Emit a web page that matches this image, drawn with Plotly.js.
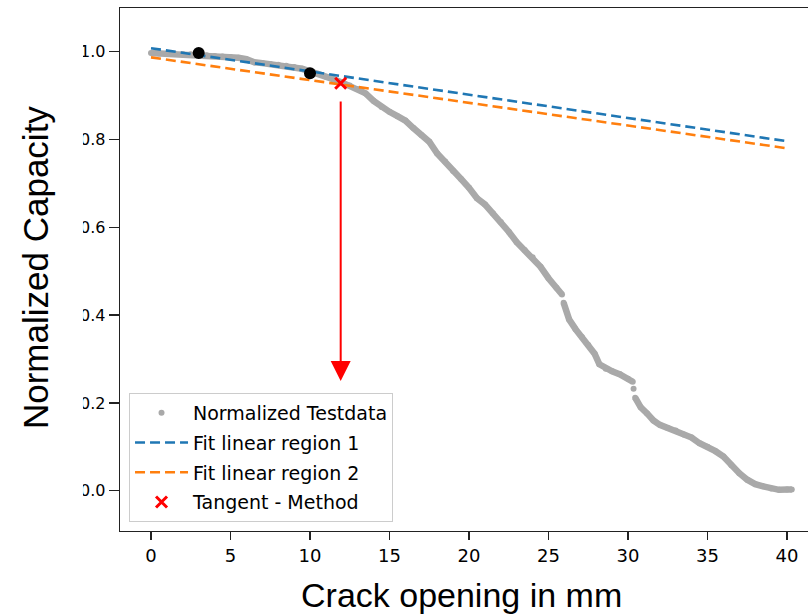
<!DOCTYPE html>
<html>
<head>
<meta charset="utf-8">
<script src="https://cdn.plot.ly/plotly-3.0.1.min.js"></script>
<style>
  html, body { margin: 0; padding: 0; overflow: hidden; background: #fff; }
  #chart { width: 832px; height: 616px; }
</style>
</head>
<body>
<div id="chart"></div>
<script>
// ---- data ----
const testX = [0, 0.5, 1, 1.5, 2, 2.5, 3, 3.5, 4, 4.5, 5, 5.5, 6, 6.5, 7, 7.5, 8, 8.5, 9, 9.5,
  10, 10.5, 11, 11.5, 12, 12.5, 13, 13.5, 14, 14.5, 15, 15.5, 16, 16.5, 17, 17.5, 18, 18.5, 19, 19.5,
  20, 20.5, 21, 21.5, 22, 22.5, 23, 23.5, 24, 24.5, 25, 25.5, 25.85, null,
  25.95, 26.3, 26.7, 27.1, 27.5, 27.9, 28.2, 28.6, 29.0, 29.5, 30.0, 30.3, null,
  30.35, null,
  30.45, 30.8, 31.2, 31.6, 32.0, 32.5, 33.0, 33.5, 34.0, 34.5, 35.0, 35.5, 36.0, 36.5, 37.0, 37.5,
  38.0, 38.5, 39.0, 39.5, 40.0, 40.3];
const testY = [0.997, 0.996, 0.995, 0.995, 0.994, 0.994, 0.994, 0.992, 0.990, 0.989, 0.988, 0.986, 0.983, 0.976, 0.974, 0.972, 0.970, 0.968, 0.965, 0.961,
  0.955, 0.950, 0.943, 0.937, 0.930, 0.923, 0.915, 0.905, 0.888, 0.874, 0.863, 0.853, 0.843, 0.826, 0.810, 0.795, 0.768, 0.750, 0.728, 0.710,
  0.690, 0.666, 0.652, 0.632, 0.612, 0.590, 0.566, 0.548, 0.532, 0.510, 0.484, 0.462, 0.447, null,
  0.428, 0.390, 0.368, 0.350, 0.332, 0.312, 0.288, 0.278, 0.272, 0.265, 0.255, 0.248, null,
  0.232, null,
  0.212, 0.190, 0.176, 0.160, 0.150, 0.143, 0.137, 0.128, 0.121, 0.108, 0.100, 0.090, 0.078, 0.058, 0.040, 0.025,
  0.015, 0.010, 0.005, 0.002, 0.003, 0.003];

const fit1X = [0, 40];
const fit1Y = [1.008, 0.796];
const fit2X = [0, 40];
const fit2Y = [0.987, 0.780];

const pointsX = [3, 10];
const pointsY = [0.997, 0.951];

const tangentX = [11.93];
const tangentY = [0.928];
const arrowEndY = 0.25;
const arrowStartY = 0.89;

const seriesNames = ["Normalized Testdata", "Fit linear region 1", "Fit linear region 2", "Tangent - Method"];
const xTicks = [0, 5, 10, 15, 20, 25, 30, 35, 40];
const yTicks = [0.0, 0.2, 0.4, 0.6, 0.8, 1.0];
const yTickText = ["0.0", "0.2", "0.4", "0.6", "0.8", "1.0"];
const xTitle = "Crack opening in mm";
const yTitle = "Normalized Capacity";

// ---- traces ----
const gray = "#a9a9a9";
const traces = [
  { x: testX, y: testY, type: "scatter", mode: "lines", showlegend: false,
    connectgaps: false, line: { color: gray, width: 6.5 }, hoverinfo: "skip" },
  { x: testX, y: testY, type: "scatter", mode: "markers", name: seriesNames[0], legendgroup: "a",
    marker: { color: gray, size: 6 } },
  { x: fit1X, y: fit1Y, type: "scatter", mode: "lines", name: seriesNames[1], legendgroup: "b",
    line: { color: "#1f77b4", width: 2.6, dash: "10px,5px" } },
  { x: fit2X, y: fit2Y, type: "scatter", mode: "lines", name: seriesNames[2], legendgroup: "c",
    line: { color: "#ff7f0e", width: 2.6, dash: "10px,5px" } },
  { x: pointsX, y: pointsY, type: "scatter", mode: "markers", showlegend: false,
    marker: { color: "#000000", size: 12 } },
  { x: tangentX, y: tangentY, type: "scatter", mode: "markers", name: seriesNames[3], legendgroup: "d",
    marker: { color: "#ff0000", symbol: "x-thin", size: 11, line: { color: "#ff0000", width: 3 } } }
];

const tickFontX = { family: "DejaVu Sans", size: 18, color: "#000" };
const tickFontY = { family: "DejaVu Sans", size: 16, color: "#000" };

const layout = {
  width: 832, height: 616,
  margin: { l: 120, r: 7, t: 8, b: 85 },
  paper_bgcolor: "#ffffff", plot_bgcolor: "#ffffff",
  showlegend: true,
  xaxis: {
    range: [-1.95, 42.39], tickvals: xTicks, ticks: "outside", ticklen: 8, tickwidth: 1.3, tickcolor: "#222",
    showline: true, linecolor: "#222", linewidth: 1.3, mirror: true,
    showgrid: false, zeroline: false, tickfont: tickFontX
  },
  yaxis: {
    range: [-0.0918, 1.0995], tickvals: yTicks, ticktext: yTickText, ticks: "outside", ticklen: 10, tickwidth: 1.3, tickcolor: "#222",
    showline: true, linecolor: "#222", linewidth: 1.3, mirror: true,
    showgrid: false, zeroline: false, tickfont: tickFontY
  },
  legend: {
    x: 0.0128, y: 0.0172, xanchor: "left", yanchor: "bottom",
    bgcolor: "#ffffff", bordercolor: "#cccccc", borderwidth: 1,
    font: { family: "DejaVu Sans", size: 19, color: "#000" },
    traceorder: "grouped", tracegroupgap: 2, itemwidth: 53
  },
  shapes: [
    { type: "rect", xref: "paper", yref: "paper", x0: -0.2, x1: -0.0525, y0: -0.05, y1: 1.05,
      fillcolor: "#ffffff", line: { width: 0 }, layer: "above" }
  ],
  annotations: [
    { x: tangentX[0], y: arrowEndY, ax: tangentX[0], ay: arrowStartY, xref: "x", yref: "y", axref: "x", ayref: "y",
      text: "", showarrow: true, arrowhead: 2, arrowsize: 2, arrowwidth: 2, arrowcolor: "#ff0000", standoff: 0 },
    { x: 0.4837, y: -0.1224, xref: "paper", yref: "paper", xanchor: "center", yanchor: "middle",
      text: xTitle, showarrow: false, font: { family: "Liberation Sans", size: 34, color: "#000" } },
    { x: -0.119, y: 0.503, xref: "paper", yref: "paper", xanchor: "center", yanchor: "middle", textangle: -90,
      text: yTitle, showarrow: false, font: { family: "Liberation Sans", size: 35, color: "#000" } }
  ]
};

Plotly.newPlot("chart", traces, layout, { displayModeBar: false, staticPlot: true });
</script>
</body>
</html>
